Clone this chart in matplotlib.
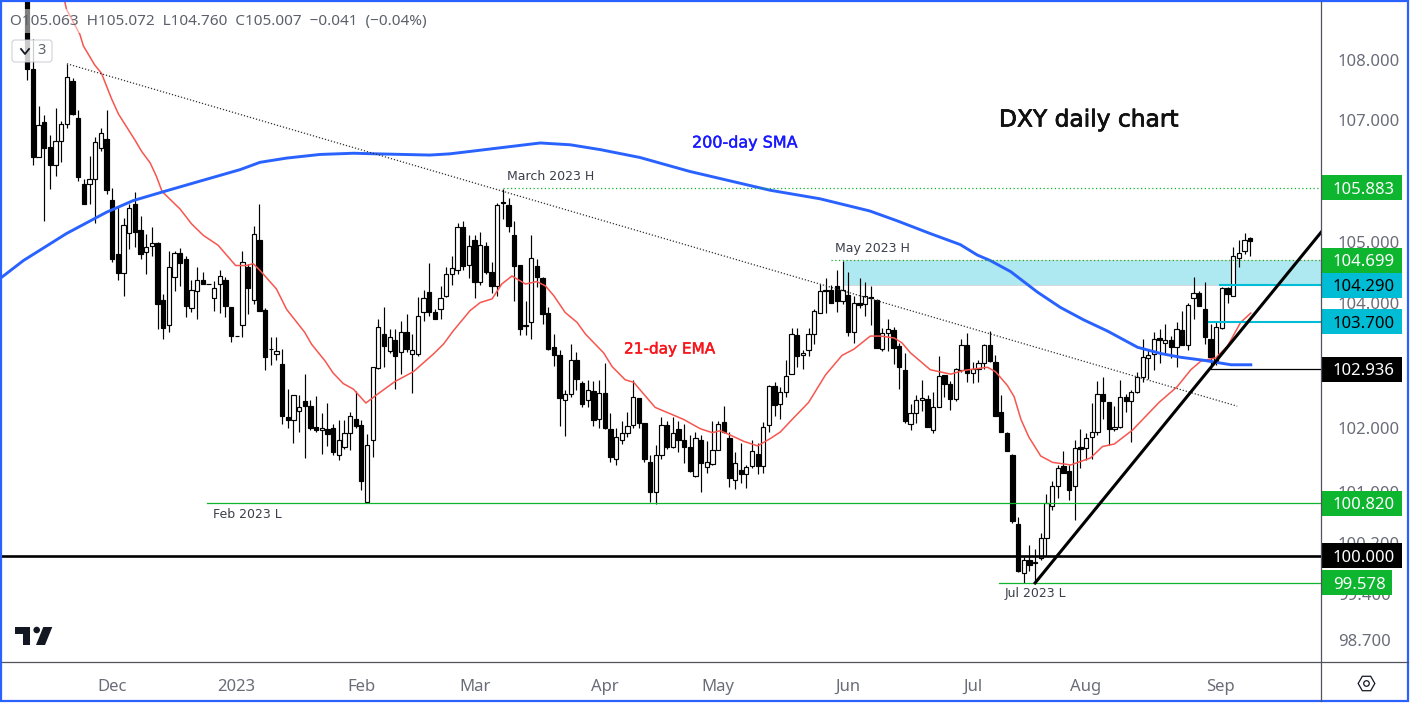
import numpy as np
import matplotlib.pyplot as plt
import matplotlib.patheffects as pe
from matplotlib.lines import Line2D
from matplotlib.patches import Rectangle, FancyBboxPatch, Polygon, Circle
from matplotlib.ticker import NullLocator
from matplotlib.transforms import IdentityTransform

plt.rcParams['font.family'] = 'Noto Sans'

# open, high, low, close for each trading day, first row is 10 Nov 2022
bars = np.array([
    [109.5, 109.8, 107.67, 107.86], [107.86, 108.35, 106.26, 106.39], [106.39, 107.23, 106.39, 106.91],
    [106.97, 107.08, 105.34, 106.53], [106.56, 106.75, 105.86, 106.26], [106.25, 107.2, 106.07, 106.65],
    [106.65, 106.99, 106.3, 106.93], [106.93, 107.94, 106.86, 107.71], [107.65, 107.7, 107.08, 107.1],
    [107.03, 107.17, 106.0, 106.06], [105.95, 106.03, 105.61, 105.61], [105.94, 106.4, 105.61, 106.03],
    [106.03, 106.72, 105.31, 106.64], [106.53, 106.86, 106.48, 106.79], [106.69, 107.16, 105.78, 105.85],
    [105.68, 105.87, 104.67, 104.72], [104.8, 105.56, 104.38, 104.49], [104.49, 105.39, 104.11, 105.27],
    [105.14, 105.61, 104.88, 105.55], [105.61, 105.81, 104.91, 105.15], [105.19, 105.42, 104.72, 104.79],
    [104.83, 105.13, 104.47, 104.91], [104.92, 105.23, 104.77, 104.98], [104.98, 104.99, 103.58, 103.99],
    [104.05, 104.15, 103.43, 103.6], [103.65, 104.85, 103.53, 104.58], [104.43, 104.85, 104.2, 104.81],
    [104.81, 104.9, 104.28, 104.65], [104.72, 104.77, 103.77, 103.95], [103.93, 104.37, 103.85, 104.21],
    [104.19, 104.59, 103.74, 104.38], [104.38, 104.5, 104.31, 104.31], [104.31, 104.31, 104.31, 104.31],
    [104.09, 104.36, 103.88, 104.24], [104.31, 104.54, 103.84, 104.44], [104.37, 104.43, 103.77, 103.96],
    [103.94, 103.94, 103.38, 103.47], [103.47, 103.47, 103.47, 103.47], [103.65, 104.85, 103.45, 104.66],
    [104.58, 104.64, 103.82, 104.24], [104.05, 105.26, 103.98, 105.12], [105.03, 105.62, 103.87, 103.88],
    [103.89, 103.93, 102.93, 103.14], [103.27, 103.45, 103.0, 103.26], [103.19, 103.46, 103.09, 103.23],
    [103.03, 103.27, 102.06, 102.2], [102.17, 102.62, 102.0, 102.13], [102.13, 102.52, 101.77, 102.52],
    [102.28, 102.52, 101.94, 102.34], [102.43, 102.86, 101.53, 102.36], [102.35, 102.44, 101.97, 102.0],
    [102.02, 102.51, 101.94, 101.97], [101.97, 102.24, 101.59, 102.01], [101.98, 102.4, 101.72, 101.91],
    [102.0, 102.07, 101.58, 101.63], [101.57, 102.13, 101.5, 101.81], [101.71, 102.13, 101.67, 101.92],
    [101.92, 102.26, 101.65, 102.2], [102.15, 102.59, 102.0, 102.03], [102.05, 102.13, 101.03, 101.16],
    [100.84, 101.91, 100.83, 101.73], [101.82, 102.98, 101.55, 102.97], [102.96, 103.74, 102.95, 103.62],
    [103.51, 103.94, 102.97, 103.31], [103.23, 103.58, 103.2, 103.46], [103.4, 103.58, 102.62, 103.15],
    [103.22, 103.72, 102.87, 103.54], [103.54, 103.82, 103.22, 103.27], [103.19, 103.5, 102.56, 103.24],
    [103.18, 104.1, 103.15, 103.8], [103.85, 104.21, 103.72, 104.08], [104.18, 104.65, 103.8, 103.85],
    [103.85, 103.9, 103.74, 103.74], [103.9, 104.28, 103.75, 104.08], [104.12, 104.59, 104.1, 104.47],
    [104.47, 104.77, 104.3, 104.57], [104.54, 105.3, 104.47, 105.23], [105.23, 105.34, 104.53, 104.61],
    [104.62, 105.1, 104.4, 104.92], [105.03, 105.1, 104.08, 104.35], [104.35, 105.16, 104.3, 104.95],
    [104.92, 104.99, 104.47, 104.5], [104.51, 104.66, 104.16, 104.27], [104.27, 105.63, 104.11, 105.6],
    [105.64, 105.86, 105.37, 105.63], [105.6, 105.71, 105.15, 105.25], [105.11, 105.34, 104.03, 104.61],
    [104.62, 104.62, 103.48, 103.59], [103.65, 104.04, 103.48, 103.63], [103.7, 105.1, 103.43, 104.73],
    [104.61, 104.72, 104.26, 104.42], [104.4, 104.43, 103.67, 103.83], [103.84, 103.94, 103.25, 103.26],
    [103.29, 103.5, 102.99, 103.17], [103.17, 103.25, 102.03, 102.48], [102.45, 102.6, 101.87, 102.55],
    [102.55, 103.34, 102.5, 103.09], [103.09, 103.21, 102.6, 102.79], [102.72, 102.75, 102.34, 102.39],
    [102.44, 102.77, 102.33, 102.6], [102.59, 102.75, 102.04, 102.13], [102.15, 102.77, 102.01, 102.56],
    [102.56, 103.04, 101.98, 102.0], [101.99, 102.24, 101.46, 101.55], [101.51, 102.0, 101.42, 101.86],
    [101.82, 102.12, 101.75, 101.92], [101.93, 102.25, 101.86, 102.03], [102.05, 102.77, 102.0, 102.5],
    [102.48, 102.48, 102.0, 102.09], [102.09, 102.09, 101.46, 101.52], [101.47, 101.58, 100.84, 100.99],
    [100.99, 101.73, 100.8, 101.57], [101.57, 102.18, 101.52, 102.05], [102.05, 102.12, 101.67, 101.7],
    [101.7, 102.17, 101.68, 101.93], [101.98, 102.12, 101.63, 101.81], [101.81, 102.07, 101.45, 101.71],
    [101.71, 101.89, 101.31, 101.32], [101.24, 101.94, 101.23, 101.84], [101.81, 101.89, 101.0, 101.45],
    [101.38, 101.79, 101.29, 101.47], [101.44, 102.12, 101.42, 101.66], [101.66, 102.12, 101.66, 102.07],
    [102.1, 102.36, 101.92, 101.94], [101.85, 101.94, 101.08, 101.21], [101.19, 101.62, 101.04, 101.45],
    [101.34, 101.76, 101.13, 101.27], [101.27, 101.42, 101.05, 101.38], [101.4, 101.81, 101.37, 101.64],
    [101.6, 101.76, 101.27, 101.41], [101.4, 102.1, 101.3, 102.02], [102.05, 102.69, 101.94, 102.67],
    [102.67, 102.73, 102.2, 102.37], [102.39, 102.66, 102.15, 102.58], [102.57, 103.09, 102.5, 102.83],
    [102.86, 103.6, 102.86, 103.5], [103.49, 103.6, 102.97, 103.15], [103.16, 103.25, 102.95, 103.2],
    [103.25, 103.6, 103.15, 103.5], [103.51, 103.9, 103.35, 103.87], [103.84, 104.31, 103.84, 104.19],
    [104.22, 104.41, 103.84, 104.2], [104.21, 104.3, 104.0, 104.01], [104.27, 104.53, 103.86, 104.03],
    [104.03, 104.69, 103.99, 104.21], [104.13, 104.5, 103.47, 103.54], [103.54, 104.12, 103.36, 104.01],
    [104.01, 104.4, 103.92, 103.97], [103.99, 104.34, 103.8, 104.11], [104.1, 104.28, 103.65, 104.08],
    [104.05, 104.07, 103.28, 103.28], [103.27, 103.6, 103.23, 103.52], [103.52, 103.74, 103.23, 103.59],
    [103.56, 103.61, 103.02, 103.28], [103.31, 103.36, 102.63, 102.97], [102.93, 103.2, 102.09, 102.12],
    [102.06, 102.39, 101.97, 102.24], [102.24, 102.52, 102.09, 102.44], [102.44, 102.76, 102.28, 102.48],
    [102.46, 102.52, 102.02, 102.02], [101.97, 102.58, 101.93, 102.34], [102.34, 103.15, 102.34, 102.83],
    [102.84, 102.85, 102.5, 102.71], [102.7, 102.75, 102.29, 102.47], [102.47, 102.96, 102.43, 102.94],
    [102.92, 103.42, 102.89, 103.32], [103.32, 103.52, 102.74, 102.88], [102.88, 103.06, 102.72, 102.94],
    [102.95, 103.08, 102.74, 103.04], [103.04, 103.35, 102.95, 103.32], [103.32, 103.55, 103.05, 103.07],
    [103.05, 103.16, 102.2, 102.2], [102.25, 102.52, 101.94, 101.94], [101.93, 101.94, 101.64, 101.64],
    [101.58, 101.6, 100.51, 100.54], [100.5, 100.61, 99.75, 99.76], [99.73, 99.98, 99.578, 99.94],
    [99.94, 100.17, 99.77, 99.86], [99.88, 100.1, 99.6, 99.91], [99.97, 100.35, 99.94, 100.27],
    [100.27, 100.96, 100.0, 100.82], [100.77, 101.16, 100.72, 101.09], [101.09, 101.42, 100.9, 101.37],
    [101.41, 101.64, 101.29, 101.29], [101.33, 101.42, 100.87, 101.02], [101.09, 101.82, 100.55, 101.68],
    [101.7, 101.98, 101.37, 101.67], [101.69, 101.92, 101.5, 101.85], [101.86, 102.4, 101.52, 101.94],
    [101.94, 102.75, 101.9, 102.55], [102.54, 102.82, 102.15, 102.43], [102.41, 102.42, 101.73, 101.98],
    [101.98, 102.35, 101.96, 102.02], [102.02, 102.77, 102.01, 102.5], [102.5, 102.55, 102.25, 102.43],
    [102.43, 102.6, 101.78, 102.58], [102.57, 102.89, 102.56, 102.82], [102.81, 103.43, 102.74, 103.14],
    [103.12, 103.26, 102.79, 103.17], [103.19, 103.53, 102.92, 103.42], [103.44, 103.58, 103.04, 103.41],
    [103.36, 103.66, 103.2, 103.4], [103.4, 103.47, 103.12, 103.3], [103.3, 103.7, 102.98, 103.58],
    [103.57, 103.88, 103.32, 103.33], [103.33, 104.0, 103.25, 103.97], [104.08, 104.43, 103.74, 104.16],
    [104.17, 104.19, 103.95, 103.95], [103.9, 104.35, 103.35, 103.46], [103.42, 103.66, 102.936, 103.13],
    [103.07, 103.72, 103.0, 103.61], [103.6, 104.26, 103.58, 104.25], [104.25, 104.26, 104.01, 104.15],
    [104.11, 104.91, 104.11, 104.76], [104.73, 105.02, 104.58, 104.81], [104.84, 105.14, 104.79, 105.03],
    [105.063, 105.072, 104.76, 105.007]])

ema21 = [[4.0, 110.2], [6.9, 108.86], [9.3, 108.43], [9.9, 108.24], [11.9, 107.92], [13.1, 107.78], [14.9, 107.35],
         [16.1, 107.1], [19.0, 106.67], [20.2, 106.48], [21.7, 106.29], [22.8, 106.07], [23.8, 105.82],
         [27.0, 105.53], [29.0, 105.29], [31.1, 105.1], [33.7, 104.94], [36.8, 104.61], [38.7, 104.61],
         [39.9, 104.64], [41.1, 104.53], [44.0, 104.23], [45.8, 103.9], [49.0, 103.53], [50.2, 103.34],
         [52.6, 103.07], [54.0, 102.88], [55.8, 102.71], [57.6, 102.62], [59.8, 102.4], [61.7, 102.53],
         [64.9, 102.74], [68.2, 102.9], [71.7, 103.18], [73.5, 103.34], [75.2, 103.55], [78.2, 103.88],
         [80.0, 104.01], [82.1, 104.07], [83.8, 104.31], [85.6, 104.44], [88.0, 104.31], [90.0, 104.35],
         [91.5, 104.28], [93.0, 104.12], [95.0, 103.85], [97.1, 103.69], [98.6, 103.5], [101.8, 103.2],
         [103.3, 102.98], [105.6, 102.77], [107.1, 102.73], [108.8, 102.55], [110.9, 102.33], [113.0, 102.25],
         [115.9, 102.14], [118.9, 101.99], [121.0, 101.93], [122.4, 101.96], [124.2, 101.89], [126.6, 101.79],
         [129.0, 101.72], [131.3, 101.84], [133.0, 101.94], [135.1, 102.14], [138.0, 102.41], [141.0, 102.85],
         [143.9, 103.16], [146.0, 103.26], [148.9, 103.47], [150.7, 103.47], [153.1, 103.44], [154.5, 103.36],
         [156.0, 103.2], [159.5, 102.93], [163.1, 102.86], [165.4, 102.92], [169.6, 102.97], [171.0, 102.9],
         [173.1, 102.68], [174.3, 102.5], [175.5, 102.14], [176.9, 101.86], [179.0, 101.56], [181.1, 101.46],
         [184.3, 101.42], [187.8, 101.53], [189.9, 101.71], [192.0, 101.75], [195.2, 101.97], [199.9, 102.41],
         [203.1, 102.66], [205.5, 102.93], [207.3, 103.07], [209.9, 103.12], [212.0, 103.31], [214.3, 103.69],
         [216.1, 103.84]]

sma200 = [[-4.8, 104.4], [-0.7, 104.69], [6.9, 105.13], [14, 105.48], [18.7, 105.67], [23.8, 105.81], [30.5, 105.99],
          [37.6, 106.18], [41.1, 106.3], [45.8, 106.37], [51.7, 106.43], [57.6, 106.45], [61.7, 106.44],
          [71.1, 106.42], [74.6, 106.44], [78.2, 106.48], [83.5, 106.54], [90.6, 106.62], [95.9, 106.59],
          [101.2, 106.51], [108.2, 106.38], [117.0, 106.15], [131.2, 105.84], [140.0, 105.7], [148.8, 105.5],
          [153.6, 105.34], [159.5, 105.13], [164.8, 104.95], [167.8, 104.78], [170.1, 104.69], [173.7, 104.51],
          [178.4, 104.18], [182.5, 103.93], [186.6, 103.73], [190.8, 103.55], [196.1, 103.29], [200.2, 103.19],
          [203.7, 103.13], [207.9, 103.08], [212.6, 103.01], [216.1, 103.01]]

fig1 = plt.figure(figsize=(14.11, 7.05), dpi=100)
ax = fig1.add_axes([2 / 1411, 1 - 662 / 705, 1319 / 1411, 660 / 705])
ax.set_yscale('log')

xRange = np.arange(len(bars))
up = bars[:, 3] >= bars[:, 0]
bottoms = np.minimum(bars[:, 0], bars[:, 3])
heights = np.abs(bars[:, 3] - bars[:, 0])

ax.axhspan(104.29, 104.699, xmin=(144 + 4.47) / 232.97, facecolor='#aee8f0', edgecolor='#d5d8dd', lw=0.7, zorder=1)
ax.vlines(xRange, bars[:, 2], bars[:, 1], color='black', lw=0.85, zorder=2)
ax.bar(xRange, heights, 0.76, bottom=bottoms, color=['white' if u else 'black' for u in up],
       edgecolor='black', lw=0.85, zorder=3)

ax.plot(*zip(*ema21), color='#f6564f', lw=1.1, zorder=4)
ax.plot(*zip(*sma200), color='#2962ff', lw=2.1, zorder=4)

ax.plot([7, 213.7], [107.94, 102.35], color='#333333', lw=0.9, ls=(0, (1, 1.5)), zorder=4)  # falling trend
ax.plot([178, 228.5], [99.578, 105.15], color='black', lw=2.2, zorder=5)  # rising trend

right = 228.5
ax.plot([84, right], [105.883, 105.883], color='#0eb52f', lw=0.9, ls=(0, (1, 2)), zorder=4)
ax.plot([141.9, right], [104.699, 104.699], color='#0eb52f', lw=0.9, ls=(0, (1, 2)), zorder=4)
ax.plot([210.7, right], [104.29, 104.29], color='#00bcd4', lw=1.5, zorder=4)
ax.plot([208.7, right], [103.7, 103.7], color='#00bcd4', lw=1.5, zorder=4)
ax.plot([209, right], [102.936, 102.936], color='black', lw=0.9, zorder=4)
ax.plot([31.7, right], [100.82, 100.82], color='#0eb52f', lw=0.9, zorder=4)
ax.plot([-4.47, right], [100.0, 100.0], color='black', lw=1.9, zorder=4)
ax.plot([171.6, right], [99.578, 99.578], color='#0eb52f', lw=0.9, zorder=4)

ax.set_xlim(-4.47, 228.5)
ax.set_ylim(98.363, 108.98)
for side in ['top', 'left', 'right', 'bottom']:
    ax.spines[side].set_visible(False)

ax.yaxis.tick_right()
ax.yaxis.set_minor_locator(NullLocator())
ax.set_yticks([108, 107, 106, 105, 104, 103, 102, 101, 100.2, 99.4, 98.7])
ax.set_yticklabels(['%.3f' % t for t in [108, 107, 106, 105, 104, 103, 102, 101, 100.2, 99.4, 98.7]])
ax.tick_params(axis='y', length=0, pad=12, labelsize=12, labelcolor='#6a6d78')
ax.set_xticks([15, 37, 59, 79, 102, 122, 145, 167, 187, 210.8])
ax.set_xticklabels(['Dec', '2023', 'Feb', 'Mar', 'Apr', 'May', 'Jun', 'Jul', 'Aug', 'Sep'])
ax.tick_params(axis='x', length=0, pad=12, labelsize=12, labelcolor='#6a6d78')
ax.get_xticklabels()[1].set_fontweight('bold')

# price flags on the scale
flags = [[105.883, '#0eb52f', 'white', 81], [104.699, '#0eb52f', 'white', 81], [104.29, '#00bcd4', 'black', 81],
         [103.7, '#00bcd4', 'black', 81], [102.936, 'black', 'white', 81], [100.82, '#0eb52f', 'white', 81],
         [100.0, 'black', 'white', 81], [99.578, '#0eb52f', 'white', 71]]
for price, back, front, wide in flags:
    ax.add_patch(Rectangle((1.0, price * 0.99806), wide / 1319, price * 0.00388, transform=ax.get_yaxis_transform(),
                           facecolor=back, lw=0, clip_on=False, zorder=9))
    ax.text(1.0 + 12 / 1319, price, '%.3f' % price, transform=ax.get_yaxis_transform(), color=front, fontsize=12,
            ha='left', va='center_baseline', zorder=10)

heavy = [pe.withStroke(linewidth=0.5, foreground='black')]
fig1.text(999 / 1411, 1 - 120 / 705, 'DXY daily chart', fontsize=16.8, family='DejaVu Sans', color='#111111', va='center',
          path_effects=heavy)
heavy = [pe.withStroke(linewidth=0.3, foreground='#1a1aff')]
fig1.text(692 / 1411, 1 - 143 / 705, '200-day SMA', fontsize=11.5, family='DejaVu Sans', color='#1a1aff', va='center',
          path_effects=heavy)
heavy = [pe.withStroke(linewidth=0.3, foreground='#f7151c')]
fig1.text(624 / 1411, 1 - 349 / 705, '21-day EMA', fontsize=11, family='DejaVu Sans', color='#f7151c', va='center',
          path_effects=heavy)
for x, y, s in [[507, 176, 'March 2023 H'], [835, 248, 'May 2023 H'], [213, 514, 'Feb 2023 L'], [1005, 593, 'Jul 2023 L']]:
    fig1.text(x / 1411, 1 - y / 705, s, fontsize=9, family='DejaVu Sans', color='#3a3e4a', va='center')

fig1.text(10 / 1411, 1 - 21 / 705, 'O105.063  H105.072  L104.760  C105.007  \u22120.041  (\u22120.04%)', fontsize=11,
          color='#5d606b', va='center', bbox=dict(facecolor='white', alpha=0.5, lw=0, pad=3))

# chart furniture is placed in pixels, y counted from the bottom
px = IdentityTransform()
fig1.add_artist(FancyBboxPatch((14, 705 - 60), 36, 18, boxstyle='round,pad=2,rounding_size=3', transform=px,
                               facecolor='white', alpha=0.8, edgecolor='#c5c7cf', lw=0.8))
fig1.add_artist(Line2D([21, 25, 29], [705 - 49, 705 - 54, 705 - 49], color='#131722', lw=1.3, transform=px))
fig1.text(37 / 1411, 1 - 51 / 705, '3', fontsize=10.5, color='#5d606b', va='center')

fig1.add_artist(Polygon([(15, 78), (30, 78), (30, 60), (22.7, 60), (22.7, 71.5), (15, 71.5)], transform=px, color='#131722', lw=0))
fig1.add_artist(Circle((36.7, 75), 3.3, transform=px, color='#131722', lw=0))
fig1.add_artist(Polygon([(43.3, 78), (52.3, 78), (45, 60), (36, 60)], transform=px, color='#131722', lw=0))

fig1.add_artist(Line2D([2, 1408], [705 - 662, 705 - 662], color='#50535e', lw=0.9, transform=px))
fig1.add_artist(Line2D([1321, 1321], [705 - 2, 705 - 701], color='#50535e', lw=0.9, transform=px))
fig1.add_artist(Line2D([1366], [705 - 683], marker='H', ms=12, mfc='white', mec='#131722', mew=0.9, transform=px))
fig1.add_artist(Line2D([1366], [705 - 683], marker='o', ms=4, mfc='white', mec='#131722', mew=0.9, transform=px))
fig1.add_artist(Rectangle((1, 705 - 701), 1407, 700, transform=px, fill=False, edgecolor='#2962ff', lw=1.6))

fig1.savefig('out.png', dpi=100)
